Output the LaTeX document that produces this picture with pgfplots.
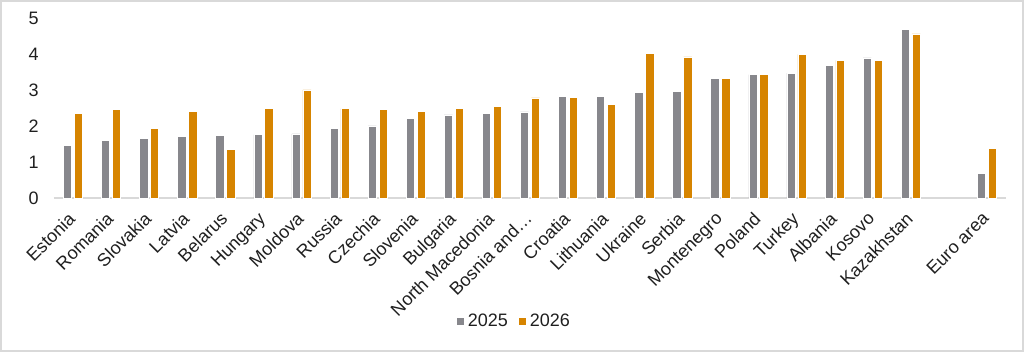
\documentclass[border=0pt]{standalone}
\usepackage{fontspec}
\setmainfont{Liberation Sans}
\usepackage{pgfplots}
\pgfplotsset{compat=1.18}
\usepackage{pgfplotstable}
\definecolor{bargray}{RGB}{135,135,140}
\definecolor{barorange}{RGB}{214,132,0}
\definecolor{framegray}{RGB}{217,217,217}
\pgfplotstableread{
x y25 y26
0 1.47 2.35
1 1.59 2.47
2 1.65 1.94
3 1.72 2.41
4 1.73 1.36
5 1.76 2.48
6 1.78 3.00
7 1.94 2.48
8 2.00 2.45
9 2.22 2.41
10 2.31 2.48
11 2.36 2.55
12 2.39 2.78
13 2.82 2.80
14 2.82 2.61
15 2.94 4.02
16 2.97 3.92
17 3.33 3.32
18 3.43 3.43
19 3.47 3.99
20 3.68 3.82
21 3.89 3.82
22 4.69 4.56
24 0.69 1.38
}\datatable
\begin{document}
\begin{tikzpicture}
\begin{axis}[
  scale only axis, width=714pt, height=135pt,
  at={(0,0)}, anchor=south west,
  xmin=-0.5, xmax=24.5, ymin=0, ymax=5,
  axis x line*=bottom, axis y line*=left,
  x axis line style={framegray, line width=0.9pt},
  y axis line style={draw=none},
  major tick length=0pt,
  ytick={0,1,2,3,4,5},
  xtick={0,1,2,3,4,5,6,7,8,9,10,11,12,13,14,15,16,17,18,19,20,21,22,24},
  xticklabels={Estonia,Romania,Slovakia,Latvia,Belarus,Hungary,Moldova,Russia,Czechia,Slovenia,Bulgaria,North Macedonia,Bosnia and…,Croatia,Lithuania,Ukraine,Serbia,Montenegro,Poland,Turkey,Albania,Kosovo,Kazakhstan,Euro area},
  xticklabel style={xshift=-4.5pt, yshift=-8pt, rotate=45, anchor=north east, font=\fontsize{13.5}{16}\selectfont, text=black!88, inner sep=1pt},
  yticklabel style={font=\fontsize{13.5}{16}\selectfont, text=black!88, xshift=-8pt},
  /pgf/number format/assume math mode=true,
  legend style={at={(0.4837,-0.683)}, anchor=center, draw=none, fill=none,
    legend columns=2, font=\fontsize{13.5}{16}\selectfont, text=black!88,
    /tikz/every even column/.append style={column sep=6pt},
    inner sep=0pt},
  legend image code/.code={\fill[#1] (0pt,-3pt) rectangle (6pt,3pt);},
  clip=false,
]
\addplot[ybar, bar width=6.2pt, bar shift=-4.1pt, fill=bargray, draw=white, line width=0.5pt] table[x=x, y=y25] {\datatable};
\addlegendentry{2025}
\addplot[ybar, bar width=6.2pt, bar shift=4.1pt, fill=barorange, draw=white, line width=0.5pt] table[x=x, y=y26] {\datatable};
\addlegendentry{2026}
\end{axis}
\draw[framegray, line width=1.5pt] (-39.75pt,-114.75pt) rectangle (726.75pt,147.75pt);
\end{tikzpicture}
\end{document}
